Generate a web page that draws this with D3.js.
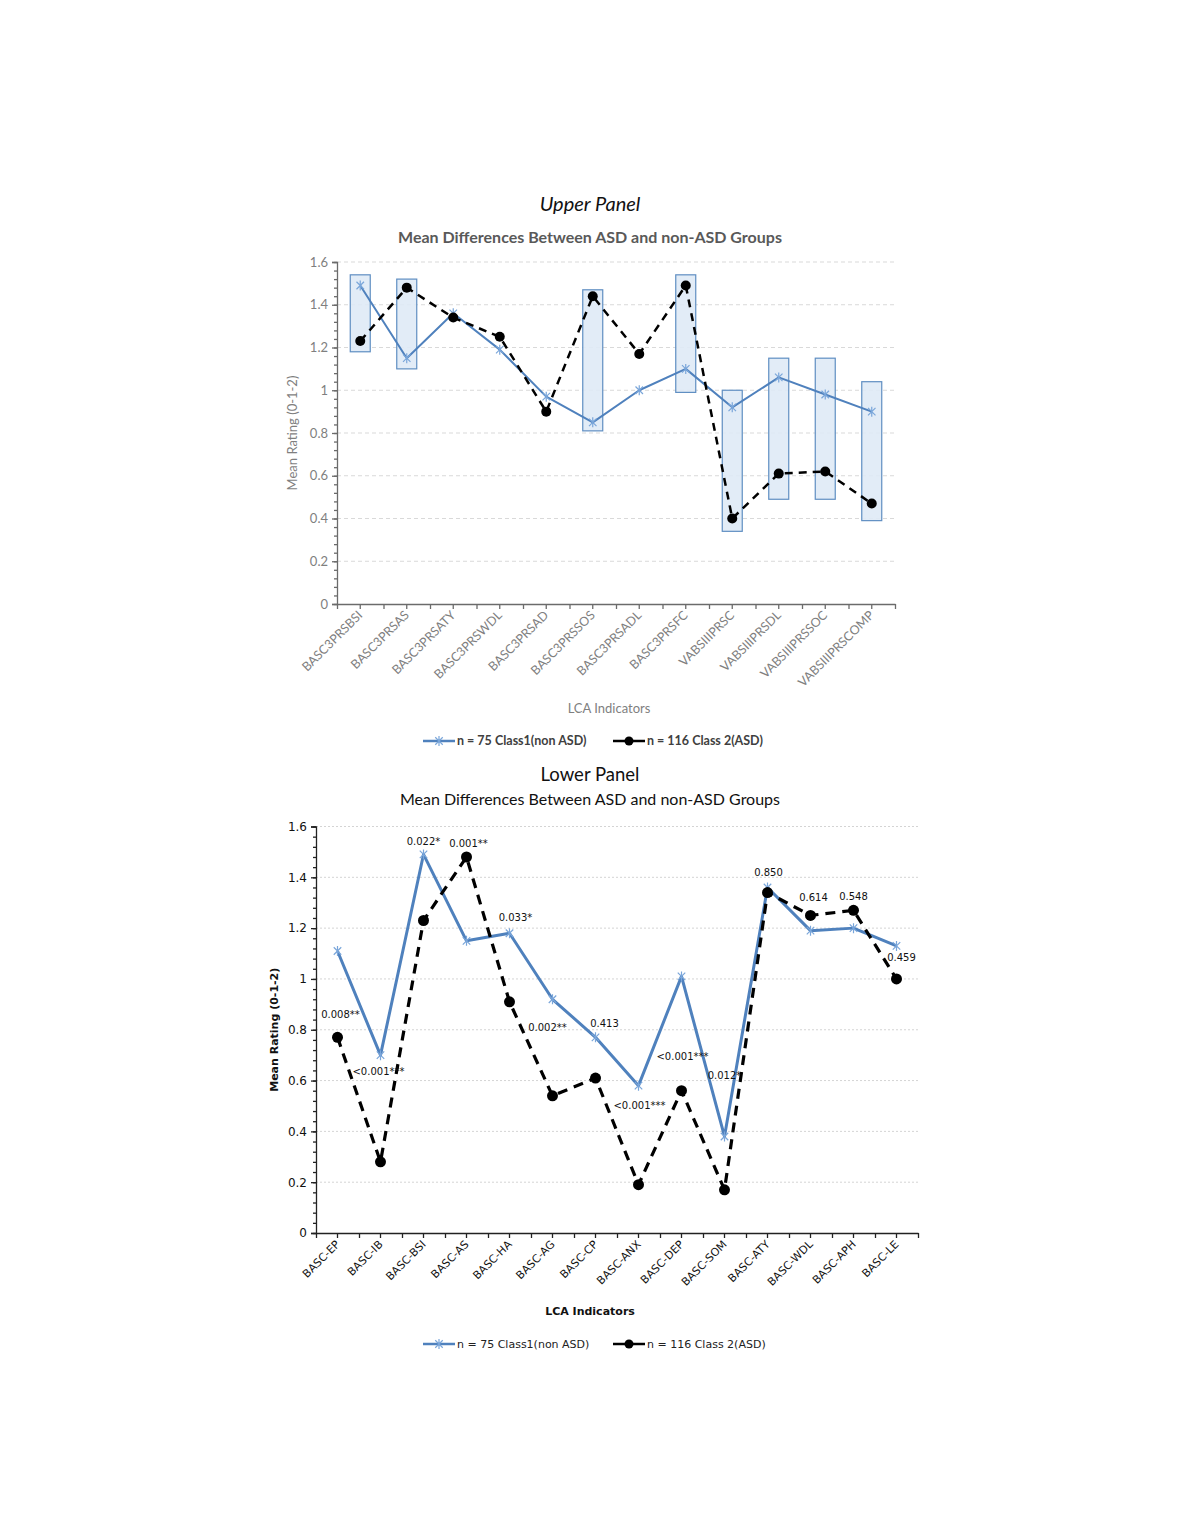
<!DOCTYPE html>
<html>
<head>
<meta charset="utf-8">
<script src="https://cdn.jsdelivr.net/npm/d3@7"></script>
<style>
  body { margin: 0; background: #fff; }
</style>
</head>
<body>
<svg id="chart" width="1182" height="1529"></svg>
<script>
// ---- upper panel ----
const upperCats = ["BASC3PRSBSI", "BASC3PRSAS", "BASC3PRSATY", "BASC3PRSWDL", "BASC3PRSAD", "BASC3PRSSOS",
  "BASC3PRSADL", "BASC3PRSFC", "VABSIIIPRSC", "VABSIIIPRSDL", "VABSIIIPRSSOC", "VABSIIIPRSCOMP"];
const upperClass1 = [1.49, 1.15, 1.36, 1.19, 0.97, 0.85, 1.00, 1.10, 0.92, 1.06, 0.98, 0.90];
const upperClass2 = [1.23, 1.48, 1.34, 1.25, 0.90, 1.44, 1.17, 1.49, 0.40, 0.61, 0.62, 0.47];
// highlighted ranges (shaded boxes)
const boxCats = ["BASC3PRSBSI", "BASC3PRSAS", "BASC3PRSSOS", "BASC3PRSFC", "VABSIIIPRSC", "VABSIIIPRSDL", "VABSIIIPRSSOC", "VABSIIIPRSCOMP"];
const boxLow  = [1.18, 1.10, 0.81, 0.99, 0.34, 0.49, 0.49, 0.39];
const boxHigh = [1.54, 1.52, 1.47, 1.54, 1.00, 1.15, 1.15, 1.04];

// ---- lower panel ----
const lowerCats = ["BASC-EP", "BASC-IB", "BASC-BSI", "BASC-AS", "BASC-HA", "BASC-AG", "BASC-CP",
  "BASC-ANX", "BASC-DEP", "BASC-SOM", "BASC-ATY", "BASC-WDL", "BASC-APH", "BASC-LE"];
const lowerClass1 = [1.11, 0.70, 1.49, 1.15, 1.18, 0.92, 0.77, 0.58, 1.01, 0.38, 1.36, 1.19, 1.20, 1.13];
const lowerClass2 = [0.77, 0.28, 1.23, 1.48, 0.91, 0.54, 0.61, 0.19, 0.56, 0.17, 1.34, 1.25, 1.27, 1.00];
const pValues = ["0.008**", "<0.001***", "0.022*", "0.001**", "0.033*", "0.002**", "0.413",
  "<0.001***", "<0.001***", "0.012*", "0.850", "0.614", "0.548", "0.459"];
// level (in rating units) where each p-value label sits
const pLabelAt = [0.86, 0.635, 1.54, 1.535, 1.24, 0.81, 0.825, 0.50, 0.695, 0.62, 1.42, 1.32, 1.325, 1.085];

const yTicks = [0, 0.2, 0.4, 0.6, 0.8, 1, 1.2, 1.4, 1.6];
const seriesNames = ["n = 75 Class1(non ASD)", "n = 116 Class 2(ASD)"];

const pLabelDx = [3, -2, 0, 2, 6, -5, 9, 1, 1, 0, 1, 3, 0, 5];

const svg = d3.select("#chart");
svg.append("rect").attr("width", 1182).attr("height", 1529).attr("fill", "#fff");

// asterisk marker like Excel's star
function starPath(r) {
  const d = r * 0.75;
  return `M${-d},${-d}L${d},${d}M${-d},${d}L${d},${-d}M0,${-r}L0,${r}`;
}

function drawPanel(o) {
  const g = svg.append("g");
  const x = d3.scaleBand().domain(o.cats).range([o.left, o.right]);
  const y = d3.scaleLinear().domain([0, 1.6]).range([o.bottom, o.top]);
  const bw = x.bandwidth();
  const cx = c => x(c) + bw / 2;

  // grid
  g.append("g").selectAll("line").data(yTicks.slice(1)).join("line")
    .attr("x1", o.left).attr("x2", o.right)
    .attr("y1", d => y(d)).attr("y2", d => y(d))
    .attr("stroke", o.gridColor).attr("stroke-width", 1)
    .attr("stroke-dasharray", o.gridDash);

  // boxes
  if (o.boxes) {
    g.append("g").selectAll("rect").data(o.boxes.cats).join("rect")
      .attr("x", d => cx(d) - bw * 0.215)
      .attr("width", bw * 0.43)
      .attr("y", (d, i) => y(o.boxes.high[i]))
      .attr("height", (d, i) => y(o.boxes.low[i]) - y(o.boxes.high[i]))
      .attr("fill", "#dfeaf6").attr("fill-opacity", 0.9)
      .attr("stroke", "#5f8ec2").attr("stroke-width", 1.2);
  }

  // y axis
  const yAxis = g.append("g").attr("transform", `translate(${o.left},0)`)
    .call(d3.axisLeft(y).tickValues(yTicks).tickSize(5).tickFormat(d => String(d)));
  g.append("g").attr("transform", `translate(${o.left},0)`)
    .call(d3.axisLeft(y).tickValues(d3.range(0, 41).map(i => i / 25)).tickSize(3).tickFormat(""))
    .call(a => a.select(".domain").remove());
  yAxis.selectAll("text").attr("font-family", o.tickFont).attr("font-size", o.tickSize)
    .attr("fill", o.tickColor).attr("x", -9);

  // x axis: ticks at category centres and boundaries
  g.append("g").attr("transform", `translate(0,${o.bottom})`)
    .call(d3.axisBottom(x).tickSize(5).tickFormat("").tickSizeOuter(0));
  const xb = d3.scaleLinear().domain([0, o.cats.length]).range([o.left, o.right]);
  g.append("g").attr("transform", `translate(0,${o.bottom})`)
    .call(d3.axisBottom(xb).tickValues(d3.range(0, o.cats.length + 1)).tickSize(5).tickFormat(""))
    .call(a => a.select(".domain").remove());
  g.selectAll(".domain, .tick line").attr("stroke", o.axisColor).attr("stroke-width", 1.3);

  // rotated category labels
  g.append("g").selectAll("text").data(o.cats).join("text")
    .attr("transform", d => `translate(${cx(d) + o.labDx},${o.bottom + o.labDy}) rotate(-45)`)
    .attr("text-anchor", "end")
    .attr("font-family", o.tickFont).attr("font-size", o.catSize)
    .attr("fill", o.tickColor)
    .text(d => d);

  // lines
  const line = d3.line().x((d, i) => cx(o.cats[i])).y(d => y(d));
  g.append("path").datum(o.s1).attr("d", line)
    .attr("fill", "none").attr("stroke", "#4f81bd").attr("stroke-width", o.blueW)
    .attr("stroke-linejoin", "round");
  g.append("path").datum(o.s2).attr("d", line)
    .attr("fill", "none").attr("stroke", "#000").attr("stroke-width", o.blackW)
    .attr("stroke-dasharray", o.blackDash);

  g.append("g").selectAll("path").data(o.s1).join("path")
    .attr("transform", (d, i) => `translate(${cx(o.cats[i])},${y(d)})`)
    .attr("d", starPath(5)).attr("fill", "none")
    .attr("stroke", "#7aa6da").attr("stroke-width", 1.2);
  g.append("g").selectAll("circle").data(o.s2).join("circle")
    .attr("cx", (d, i) => cx(o.cats[i])).attr("cy", d => y(d))
    .attr("r", o.dotR).attr("fill", "#000");

  // p-value labels
  if (o.pv) {
    g.append("g").selectAll("text").data(o.pv).join("text")
      .attr("x", (d, i) => cx(o.cats[i]) + pLabelDx[i])
      .attr("y", (d, i) => y(pLabelAt[i]))
      .attr("dy", "0.35em")
      .attr("text-anchor", "middle")
      .attr("font-family", "DejaVu Sans").attr("font-size", 10)
      .attr("fill", "#111")
      .text(d => d);
  }

  // titles
  g.append("text").attr("x", 590).attr("y", o.panelY).attr("text-anchor", "middle")
    .attr("font-family", "Lato").attr("font-size", o.panelSize)
    .attr("font-style", o.panelStyle).attr("fill", "#111").text(o.panelTitle);
  g.append("text").attr("x", 590).attr("y", o.titleY).attr("text-anchor", "middle")
    .attr("font-family", "Lato").attr("font-size", o.titleSize)
    .attr("font-weight", o.titleWeight).attr("fill", o.titleColor)
    .text("Mean Differences Between ASD and non-ASD Groups");

  // axis titles
  g.append("text")
    .attr("transform", `translate(${o.yTitleX},${(o.top + o.bottom) / 2}) rotate(-90)`)
    .attr("text-anchor", "middle")
    .attr("font-family", o.axisTitleFont).attr("font-size", o.axisTitleSize)
    .attr("font-weight", o.axisTitleWeight).attr("fill", o.axisTitleColor)
    .text("Mean Rating (0-1-2)");
  g.append("text").attr("x", o.xTitleX).attr("y", o.xTitleY).attr("text-anchor", "middle")
    .attr("font-family", o.axisTitleFont).attr("font-size", o.axisTitleSize)
    .attr("font-weight", o.axisTitleWeight).attr("fill", o.axisTitleColor)
    .text("LCA Indicators");

  // legend
  const lg = g.append("g").attr("transform", `translate(0,${o.legendY})`);
  const lx = [423, 613];
  lx.forEach((x0, i) => {
    lg.append("line").attr("x1", x0).attr("x2", x0 + 32).attr("y1", 0).attr("y2", 0)
      .attr("stroke", i === 0 ? "#4f81bd" : "#000").attr("stroke-width", 2.5);
    if (i === 0) {
      lg.append("path").attr("transform", `translate(${x0 + 16},0)`).attr("d", starPath(5))
        .attr("fill", "none").attr("stroke", "#7aa6da").attr("stroke-width", 1.2);
    } else {
      lg.append("circle").attr("cx", x0 + 16).attr("cy", 0).attr("r", 4.5).attr("fill", "#000");
    }
    lg.append("text").attr("x", x0 + 34).attr("y", 0).attr("dy", "0.35em")
      .attr("font-family", o.legendFont).attr("font-size", o.legendSize)
      .attr("font-weight", o.legendWeight).attr("fill", o.legendColor)
      .text(seriesNames[i]);
  });
}

drawPanel({
  cats: upperCats, s1: upperClass1, s2: upperClass2,
  boxes: { cats: boxCats, low: boxLow, high: boxHigh },
  left: 337, right: 895, top: 262, bottom: 604,
  gridColor: "#d9d9d9", gridDash: "4,3",
  tickFont: "Lato", tickSize: 13, catSize: 12.5, tickColor: "#7f7f7f", axisColor: "#6b6b6b",
  labDx: 3, labDy: 12,
  blueW: 2, blackW: 2.5, blackDash: "8,6", dotR: 5,
  panelTitle: "Upper Panel", panelY: 211, panelSize: 20, panelStyle: "italic",
  titleY: 243, titleSize: 16, titleWeight: "bold", titleColor: "#595959",
  yTitleX: 297, xTitleX: 609, xTitleY: 713, axisTitleSize: 13,
  axisTitleFont: "Lato", axisTitleWeight: "normal", axisTitleColor: "#7f7f7f",
  legendY: 741, legendFont: "Lato", legendSize: 12.5, legendWeight: "bold", legendColor: "#404040"
});

drawPanel({
  cats: lowerCats, s1: lowerClass1, s2: lowerClass2, pv: pValues,
  left: 316, right: 918, top: 826.5, bottom: 1233,
  gridColor: "#d4d4d4", gridDash: "2,2",
  tickFont: "DejaVu Sans", tickSize: 12, catSize: 11, tickColor: "#111", axisColor: "#222",
  labDx: 3, labDy: 12,
  blueW: 3, blackW: 3.2, blackDash: "10,7", dotR: 5.5,
  panelTitle: "Lower Panel", panelY: 781, panelSize: 18.5, panelStyle: "normal",
  titleY: 805, titleSize: 16, titleWeight: "normal", titleColor: "#111",
  yTitleX: 278, xTitleX: 590, xTitleY: 1315, axisTitleSize: 11,
  axisTitleFont: "DejaVu Sans", axisTitleWeight: "bold", axisTitleColor: "#111",
  legendY: 1344, legendFont: "DejaVu Sans", legendSize: 11, legendWeight: "normal", legendColor: "#222"
});
</script>
</body>
</html>
